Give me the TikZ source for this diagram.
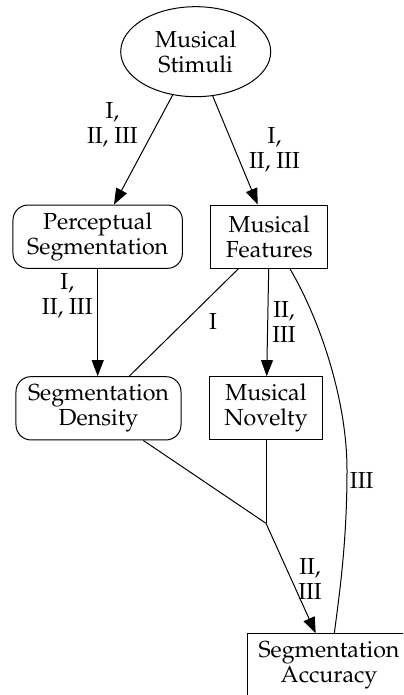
\documentclass[tikz,border=0pt]{standalone}
\usepackage[T1]{fontenc}
\usepackage{mathpazo}
\usetikzlibrary{shapes.geometric,arrows.meta,calc}
\begin{document}
\begin{tikzpicture}[x=1bp,y=-1bp,
  every node/.style={font=\fontsize{23.2bp}{25bp}\selectfont, inner sep=0pt},
  base/.style={draw, line width=1bp, align=center, minimum height=63.3bp},
  ell/.style={base, ellipse, minimum width=150bp, minimum height=90bp},
  rbox/.style={base, rectangle, rounded corners=15bp},
  sbox/.style={base, rectangle},
  lbl/.style={align=center},
  edge/.style={line width=1bp},
  arr/.style={edge, -{Triangle[length=16bp,width=12bp]}}]
\useasboundingbox (0,0) rectangle (403,695);
\clip (0,0) rectangle (403,695);
\node[ell] (stim) at (195.7,51.7) {Musical\\Stimuli};
\node[rbox, minimum width=169.4bp] (perc) at (97.7,236.7) {Perceptual\\Segmentation};
\node[sbox, minimum width=117bp] (feat) at (269.2,236.7) {Musical\\Features};
\node[rbox, minimum width=165bp] (dens) at (98.5,408.3) {Segmentation\\Density};
\node[sbox, minimum width=113.4bp] (nov) at (266,408.3) {Musical\\Novelty};
\node[sbox, minimum width=164bp] (acc) at (329,665.5) {Segmentation\\Accuracy};
\coordinate (J) at (266,523.3);
% edges
\draw[arr] (stim.242.9) -- ([xshift=16.3bp]perc.north);
\draw[arr] (stim.291.4) -- ([xshift=-11.5bp]feat.north);
\draw[arr] (perc.south) -- (perc.south |- dens.north);
\draw[arr] ([xshift=-0.5bp]feat.south) -- ([xshift=0.7bp]nov.north);
\draw[edge] ([xshift=-30.9bp]feat.south) -- ([xshift=30.8bp]dens.north);
\draw[edge] ([xshift=20.8bp]feat.south) .. controls (320,320) and (347,400) .. (347,470)
  .. controls (347,540) and (340,590) .. ([xshift=5.3bp]acc.north);
\draw[edge] ([xshift=44.8bp]dens.south) -- (J);
\draw[edge] (nov.south) -- (J);
\draw[arr] (J) -- ([xshift=-13.3bp]acc.north);
% labels
\node[lbl] (l1) at (112.4,125) {I,\\II, III};
\node[lbl] (l2) at (274.5,150) {I,\\II, III};
\node[lbl] (l3) at (67.3,296) {I,\\II, III};
\node[lbl] (l4) at (284,322) {II,\\III};
\node[lbl] (l5) at (213,321.7) {I};
\node[lbl] (l6) at (361.7,480) {III};
\node[lbl] (l7) at (310,579) {II,\\III};
\end{tikzpicture}
\end{document}
